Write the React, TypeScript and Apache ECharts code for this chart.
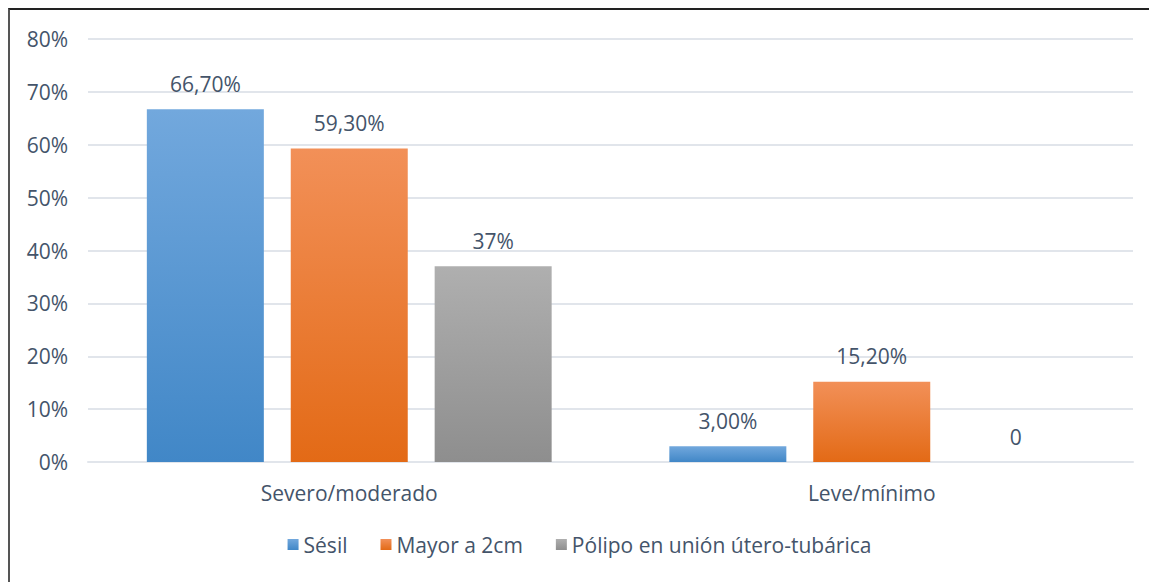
import React, { useEffect, useRef } from "react";
import * as echarts from "echarts";

const categories = ["Severo/moderado", "Leve/mínimo"];
const seriesNames = ["Sésil", "Mayor a 2cm", "Pólipo en unión útero-tubárica"];
const sesil = [66.7, 3.0];
const mayor = [59.3, 15.2];
const polipo = [37, 0];
const sesilLabels = ["66,70%", "3,00%"];
const mayorLabels = ["59,30%", "15,20%"];
const polipoLabels = ["37%", "0"];
const yTicks = [0, 10, 20, 30, 40, 50, 60, 70, 80];

const TEXT = "#44546A";
const FONT = "Open Sans";
const FS = 21;

const grad = (top: string, bottom: string) =>
  new echarts.graphic.LinearGradient(0, 0, 0, 1, [
    { offset: 0, color: top },
    { offset: 1, color: bottom },
  ]);

export default function App() {
  const ref = useRef<HTMLDivElement>(null);
  useEffect(() => {
    if (!ref.current) return;
    const chart = echarts.init(ref.current, undefined, { renderer: "svg" });
    const colors = [
      grad("#72A8DD", "#4187C7"),
      grad("#F29058", "#E36A16"),
      grad("#AFAFAF", "#8E8E8E"),
    ];
    const mk = (name: string, vals: number[], labels: string[], i: number) => ({
      name,
      type: "bar",
      barWidth: 117,
      barGap: "23%",
      itemStyle: { color: colors[i] },
      label: {
        show: true,
        position: "top",
        distance: 15,
        color: TEXT,
        fontFamily: FONT,
        fontSize: FS,
        formatter: (p: any) => labels[p.dataIndex],
      },
      data: vals,
    });
    chart.setOption({
      animation: false,
      textStyle: { fontFamily: FONT },
      grid: { left: 78, right: 16, top: 29, bottom: 120, containLabel: false },
      legend: {
        bottom: 22,
        left: "center",
        itemWidth: 11,
        itemHeight: 11,
        itemGap: 33,
        icon: "rect",
        textStyle: { color: TEXT, fontFamily: FONT, fontSize: FS },
        data: seriesNames,
      },
      xAxis: {
        type: "category",
        data: categories,
        axisLine: { show: true, lineStyle: { color: "#E1E5EB", width: 2 } },
        axisTick: { show: false },
        axisLabel: { color: TEXT, fontFamily: FONT, fontSize: FS, margin: 20 },
      },
      yAxis: {
        type: "value",
        min: yTicks[0],
        max: yTicks[yTicks.length - 1],
        interval: 10,
        axisLine: { show: false },
        axisTick: { show: false },
        splitLine: { lineStyle: { color: "#E1E5EB", width: 2 } },
        axisLabel: {
          color: TEXT,
          fontFamily: FONT,
          fontSize: FS,
          margin: 20,
          formatter: (v: number) => `${v}%`,
        },
      },
      series: [
        mk(seriesNames[0], sesil, sesilLabels, 0),
        mk(seriesNames[1], mayor, mayorLabels, 1),
        mk(seriesNames[2], polipo, polipoLabels, 2),
      ],
    });
    return () => chart.dispose();
  }, []);
  return (
    <div
      style={{
        position: "fixed",
        left: 8,
        top: 8,
        width: 1141,
        height: 574,
        boxSizing: "border-box",
        borderTop: "2px solid #222",
        borderLeft: "2px solid #555",
        background: "#fff",
        overflow: "hidden",
      }}
    >
      <div ref={ref} style={{ width: 1139, height: 572 }} />
    </div>
  );
}
